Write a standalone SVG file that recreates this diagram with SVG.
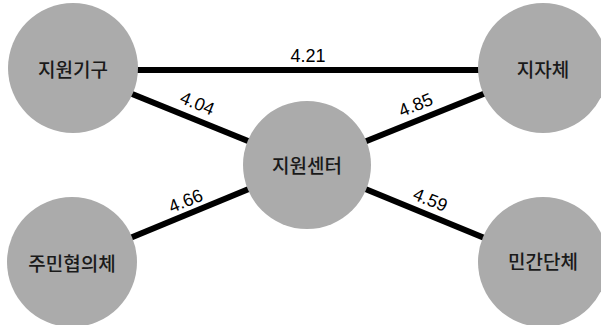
<svg xmlns="http://www.w3.org/2000/svg" width="601" height="325" viewBox="0 0 601 325">
<style>
.edge{stroke:#000;stroke-width:6;fill:none}
.node circle{fill:#ababab}
.node text{font-family:"Noto Sans CJK KR","Noto Sans",sans-serif;font-size:19px;font-weight:500;fill:#1a1a1a;text-anchor:middle;dominant-baseline:central}
.lbl{font-family:"Liberation Sans",Arial,sans-serif;font-size:18px;fill:#000;text-anchor:middle}
</style>
<rect width="601" height="325" fill="#fff"/>
<g id="connectors">
<line class="edge" x1="73" y1="70" x2="543" y2="70"/>
<line class="edge" x1="73" y1="70" x2="307" y2="165"/>
<line class="edge" x1="543" y1="70" x2="307" y2="165"/>
<line class="edge" x1="72" y1="262" x2="307" y2="165"/>
<line class="edge" x1="543" y1="262" x2="307" y2="165"/>
<text class="lbl" x="308" y="62">4.21</text>
<text class="lbl" transform="translate(195,109) rotate(22.5)">4.04</text>
<text class="lbl" transform="translate(418,110.5) rotate(-22.5)">4.85</text>
<text class="lbl" transform="translate(188,206.5) rotate(-22.5)">4.66</text>
<text class="lbl" transform="translate(428,205.5) rotate(22.5)">4.59</text>
</g>
<g id="n1" class="node"><circle cx="73" cy="68" r="65"/><text x="73" y="68">지원기구</text></g>
<g id="n2" class="node"><circle cx="543" cy="68" r="65"/><text x="543" y="68">지자체</text></g>
<g id="n3" class="node"><circle cx="307" cy="165" r="64"/><text x="307" y="164">지원센터</text></g>
<g id="n4" class="node"><circle cx="72" cy="262" r="65"/><text x="72" y="262">주민협의체</text></g>
<g id="n5" class="node"><circle cx="543" cy="262" r="65"/><text x="543" y="260">민간단체</text></g>
</svg>
